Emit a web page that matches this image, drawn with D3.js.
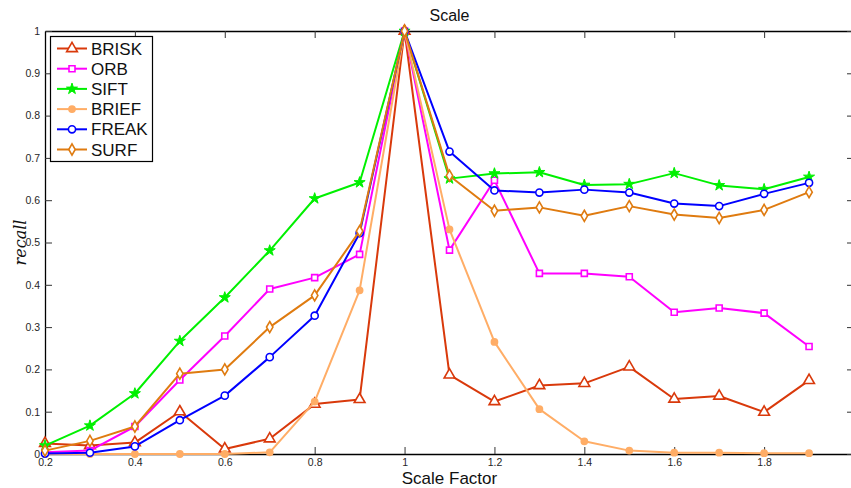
<!DOCTYPE html>
<html>
<head>
<meta charset="utf-8">
<script src="https://cdn.jsdelivr.net/npm/d3@7"></script>
<style>
  body { margin: 0; background: #fff; }
  svg { display: block; font-family: "Liberation Sans", Arial, sans-serif; }
</style>
</head>
<body>
<svg id="chart" width="851" height="488"></svg>
<script>
// scale factors on the x axis
var scaleFactors = [0.2, 0.3, 0.4, 0.5, 0.6, 0.7, 0.8, 0.9, 1.0, 1.1, 1.2, 1.3, 1.4, 1.5, 1.6, 1.7, 1.8, 1.9];

// recall per descriptor
var brisk = [0.025, 0.02, 0.027, 0.1, 0.012, 0.036, 0.118, 0.129, 1.0, 0.187, 0.124, 0.162, 0.167, 0.206, 0.130, 0.137, 0.099, 0.174];
var orb   = [0.004, 0.008, 0.065, 0.175, 0.279, 0.39, 0.417, 0.472, 1.0, 0.482, 0.647, 0.427, 0.427, 0.419, 0.335, 0.345, 0.333, 0.254];
var sift  = [0.02, 0.067, 0.143, 0.267, 0.37, 0.481, 0.604, 0.642, 1.0, 0.651, 0.663, 0.666, 0.636, 0.638, 0.664, 0.635, 0.626, 0.655];
var brief = [0.0, 0.0, 0.0, 0.0, 0.0, 0.004, 0.124, 0.387, 1.0, 0.531, 0.265, 0.106, 0.030, 0.008, 0.003, 0.003, 0.002, 0.002];
var freak = [0.001, 0.003, 0.018, 0.08, 0.138, 0.229, 0.327, 0.522, 1.0, 0.715, 0.623, 0.618, 0.625, 0.618, 0.592, 0.586, 0.615, 0.641];
var surf  = [0.008, 0.031, 0.065, 0.19, 0.2, 0.3, 0.375, 0.527, 1.0, 0.658, 0.575, 0.583, 0.563, 0.586, 0.566, 0.558, 0.577, 0.619];

var xTicks = [0.2, 0.4, 0.6, 0.8, 1, 1.2, 1.4, 1.6, 1.8, 2];
var yTicks = [0, 0.1, 0.2, 0.3, 0.4, 0.5, 0.6, 0.7, 0.8, 0.9, 1];

var series = [
  { name: "BRISK", values: brisk, color: "#d9390b", symbol: d3.symbolTriangle, size: 50, fill: "#fff", sw: 1.6 },
  { name: "ORB",   values: orb,   color: "#ff00ff", symbol: d3.symbolSquare,   size: 36, fill: "#fff", sw: 1.6 },
  { name: "SIFT",  values: sift,  color: "#00f000", symbol: d3.symbolStar,     size: 38, fill: "#00f000", sw: 1 },
  { name: "BRIEF", values: brief, color: "#ffad66", symbol: d3.symbolCircle,   size: 30, fill: "#ffad66", sw: 1.6 },
  { name: "FREAK", values: freak, color: "#0000ff", symbol: d3.symbolCircle,   size: 40, fill: "#fff", sw: 1.6 },
  { name: "SURF",  values: surf,  color: "#df7b10", symbol: d3.symbolDiamond,  size: 36, fill: "#fff", sw: 1.6 }
];

var svg = d3.select("#chart");
var plotL = 45, plotR = 854, plotT = 31, plotB = 454;

var x = d3.scaleLinear().domain([0.2, 2]).range([plotL, plotR]);
var y = d3.scaleLinear().domain([0, 1]).range([plotB, plotT]);

///////////////////////////////////////////////////////////////////////////////
// Axes (box with inward ticks on all sides)

var tickLen = 7;
var axes = svg.append("g");

axes.append("g")
  .attr("transform", "translate(0," + plotB + ")")
  .call(d3.axisBottom(x).tickValues(xTicks).tickSizeInner(-tickLen).tickSizeOuter(0).tickPadding(5)
    .tickFormat(d3.format("")));
axes.append("g")
  .attr("transform", "translate(0," + plotT + ")")
  .call(d3.axisTop(x).tickValues(xTicks).tickSizeInner(-tickLen).tickSizeOuter(0).tickFormat(""));
axes.append("g")
  .attr("transform", "translate(" + plotL + ",0)")
  .call(d3.axisLeft(y).tickValues(yTicks).tickSizeInner(-tickLen).tickSizeOuter(0).tickPadding(5)
    .tickFormat(d3.format("")));
axes.append("g")
  .attr("transform", "translate(" + plotR + ",0)")
  .call(d3.axisRight(y).tickValues(yTicks).tickSizeInner(-tickLen).tickSizeOuter(0).tickFormat(""));

axes.selectAll(".domain").attr("stroke", "#000").attr("stroke-width", 1.3);
axes.selectAll(".tick line").attr("stroke", "#333").attr("stroke-width", 1);
axes.selectAll(".tick text").attr("fill", "#262626").attr("font-size", 10.5)
  .attr("font-family", "Liberation Sans, Arial, sans-serif");

///////////////////////////////////////////////////////////////////////////////
// Lines and markers

var line = d3.line()
  .x(function (d, i) { return x(scaleFactors[i]); })
  .y(function (d) { return y(d); });

var plot = svg.append("g");
series.forEach(function (s) {
  var g = plot.append("g");
  g.append("path")
    .attr("d", line(s.values))
    .attr("fill", "none")
    .attr("stroke", s.color)
    .attr("stroke-width", 2)
    .attr("stroke-linejoin", "round");
  g.selectAll("path.mk")
    .data(s.values)
    .enter().append("path")
    .attr("class", "mk")
    .attr("transform", function (d, i) { return "translate(" + x(scaleFactors[i]) + "," + y(d) + ")"; })
    .attr("d", d3.symbol().type(s.symbol).size(s.size))
    .attr("fill", s.fill)
    .attr("stroke", s.color)
    .attr("stroke-width", s.sw);
});

///////////////////////////////////////////////////////////////////////////////
// Labels

svg.append("text")
  .attr("x", (plotL + plotR) / 2).attr("y", 21)
  .attr("text-anchor", "middle").attr("font-size", 16).attr("fill", "#111")
  .text("Scale");

svg.append("text")
  .attr("x", (plotL + plotR) / 2).attr("y", 484)
  .attr("text-anchor", "middle").attr("font-size", 17).attr("fill", "#111")
  .text("Scale Factor");

svg.append("text")
  .attr("transform", "translate(26," + ((plotT + plotB) / 2) + ") rotate(-90)")
  .attr("text-anchor", "middle").attr("font-size", 16)
  .attr("font-family", "DejaVu Serif, Liberation Serif, serif").attr("font-style", "italic")
  .attr("fill", "#111")
  .text("recall");

///////////////////////////////////////////////////////////////////////////////
// Legend

var legend = svg.append("g");
legend.append("rect")
  .attr("x", 50.5).attr("y", 36.5).attr("width", 102).attr("height", 125)
  .attr("fill", "#fff").attr("stroke", "#000").attr("stroke-width", 1.2);

series.forEach(function (s, i) {
  var ly = 48.5 + i * 20.2;
  legend.append("line")
    .attr("x1", 57).attr("x2", 87).attr("y1", ly).attr("y2", ly)
    .attr("stroke", s.color).attr("stroke-width", 2);
  legend.append("path")
    .attr("transform", "translate(72," + ly + ")")
    .attr("d", d3.symbol().type(s.symbol).size(s.size))
    .attr("fill", s.fill).attr("stroke", s.color).attr("stroke-width", s.sw);
  legend.append("text")
    .attr("x", 91).attr("y", ly + 6)
    .attr("font-size", 17).attr("fill", "#111")
    .text(s.name);
});
</script>
</body>
</html>
